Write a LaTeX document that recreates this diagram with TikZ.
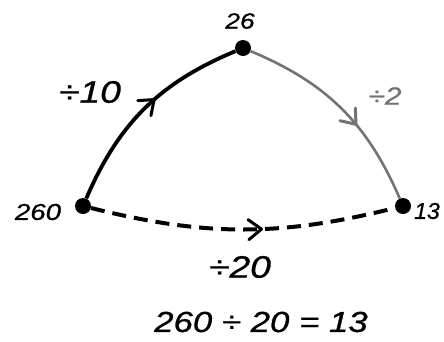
\documentclass[tikz,border=0pt]{standalone}
\usepackage{fontspec}
\setmainfont{Liberation Sans}
\newfontfamily\lblfont{Liberation Sans Italic}[FakeBold=0.8]
\usetikzlibrary{decorations.markings}
\newcommand\wideTxt[1]{\scalebox{1.2}[1]{#1}}
\begin{document}
\begin{tikzpicture}[x=1pt,y=-1pt,
  dot/.style={circle,fill=black,inner sep=0pt,minimum size=16pt},
  lbl/.style={font=\lblfont\fontsize{#1}{#1}\selectfont,inner sep=0pt},
  midarrow/.style 2 args={postaction={decorate},decoration={markings,
    mark=at position #2 with {\draw[#1,solid,line width=3pt,line cap=round,line join=round]
      (-13pt,10pt) -- (0pt,0pt) -- (-13pt,-10pt);}}},
]
\useasboundingbox (0,0) rectangle (444,341);
\node[dot] (a) at (83,206) {};
\node[dot] (b) at (243,48) {};
\node[dot] (c) at (403,206) {};
\draw[line width=3.8pt,midarrow={black}{0.56}] (a) to[bend left=22] (b);
\draw[line width=2.6pt,black!55,midarrow={black!55}{0.6}] (b) to[bend left=22] (c);
\draw[line width=4pt,dash pattern=on 14pt off 8pt,midarrow={black}{0.56}] (a) to[bend right=14] (c);
\node[lbl=22] (tb) at (240,21) {\wideTxt{26}};
\node[lbl=23] (ta) at (38,212) {\wideTxt{260}};
\node[lbl=23] (tc) at (427,211) {13};
\node[lbl=31] (t10) at (90,92) {\wideTxt{÷10}};
\node[lbl=25,text=black!55] (t2) at (385,96) {\wideTxt{÷2}};
\node[lbl=31] (t20) at (240,267) {\wideTxt{÷20}};
\node[lbl=29] (eq) at (261,322) {\wideTxt{260 ÷ 20 = 13}};
\end{tikzpicture}
\end{document}
